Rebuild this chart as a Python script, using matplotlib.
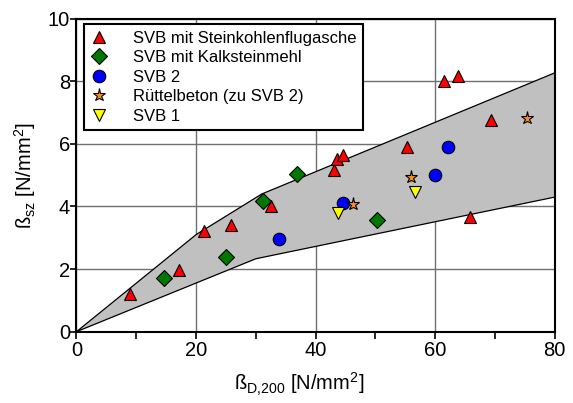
import numpy as np
import matplotlib
matplotlib.use('Agg')
import matplotlib.pyplot as plt

plt.rcParams['font.family'] = ['Liberation Sans', 'DejaVu Sans']
plt.rcParams['mathtext.fontset'] = 'custom'
plt.rcParams['mathtext.rm'] = 'Liberation Sans'

# ---- data ----
# SVB mit Steinkohlenflugasche
flug_x = [8.9, 17.1, 21.3, 25.9, 32.6, 43.1, 43.6, 44.6, 55.2, 61.5, 63.8, 69.3, 65.8]
flug_y = [1.2, 1.97, 3.22, 3.41, 4.03, 5.17, 5.51, 5.64, 5.89, 8.02, 8.18, 6.76, 3.67]
# SVB mit Kalksteinmehl
kalk_x = [14.7, 25.0, 31.2, 36.8, 50.3]
kalk_y = [1.72, 2.38, 4.19, 5.05, 3.57]
# SVB 2
svb2_x = [33.9, 44.6, 60.0, 62.2]
svb2_y = [2.96, 4.10, 5.0, 5.9]
# Ruettelbeton (zu SVB 2)
rb_x = [46.3, 56.0, 75.3]
rb_y = [4.09, 4.93, 6.82]
# SVB 1
svb1_x = [43.7, 56.6]
svb1_y = [3.80, 4.47]

# scatter band (upper edge then lower edge back)
band_upper_x = [0, 20, 31, 80]
band_upper_y = [0, 3.1, 4.4, 8.27]
band_lower_x = [0, 30, 80]
band_lower_y = [0, 2.33, 4.3]

fig = plt.figure(figsize=(5.73, 4.03), dpi=100)
ax = fig.add_axes([0.1335, 0.177, 0.8347, 0.7766])

# band
poly_x = band_upper_x + band_lower_x[::-1]
poly_y = band_upper_y + band_lower_y[::-1]
ax.fill(poly_x, poly_y, facecolor='#c0c0c0', edgecolor='black', linewidth=0.9, zorder=2)

mk = dict(linestyle='none', markeredgecolor='black', markeredgewidth=0.8, zorder=4)
ax.plot(flug_x, flug_y, marker='^', color='#ff0000', markersize=9,
        label='SVB mit Steinkohlenflugasche', **mk)
ax.plot(kalk_x, kalk_y, marker='D', color='#007800', markersize=8,
        label='SVB mit Kalksteinmehl', **mk)
ax.plot(svb2_x, svb2_y, marker='o', color='#0000ff', markersize=9,
        label='SVB 2', **mk)
ax.plot(rb_x, rb_y, marker='*', color='#ff8c1a', markersize=9.5,
        label='Rüttelbeton (zu SVB 2)', **mk)
ax.plot(svb1_x, svb1_y, marker='v', color='#ffff00', markersize=9,
        label='SVB 1', **mk)

ax.set_xlim(0, 80)
ax.set_ylim(0, 10)
ax.set_xticks([0, 20, 40, 60, 80])
ax.set_xticks([10, 30, 50, 70], minor=True)
ax.set_yticks([0, 2, 4, 6, 8, 10])
ax.tick_params(axis='x', which='both', direction='out', length=5, width=1.2,
               labelsize=14.5, pad=1.5)
ax.tick_params(axis='y', which='both', direction='out', length=4, width=1.2,
               labelsize=14.5, pad=0.7)
ax.grid(True, which='major', color='#707070', linewidth=1.0, zorder=1)
ax.set_axisbelow(True)
for s in ax.spines.values():
    s.set_linewidth(1.5)
    s.set_zorder(5)

ax.set_xlabel('ß$_\\mathregular{D{,}200}$ [N/mm$^\\mathregular{2}$]', fontsize=14.5)
ax.set_ylabel('ß$_\\mathregular{sz}$ [N/mm$^\\mathregular{2}$]', fontsize=14.5)
ax.xaxis.set_label_coords(0.465, -0.125)
ax.yaxis.set_label_coords(-0.08, 0.5)

leg = ax.legend(loc='upper left', bbox_to_anchor=(0.0157, 0.983), borderaxespad=0,
                fontsize=12, fancybox=False, edgecolor='black', framealpha=1,
                handlelength=1.0, handletextpad=1.55, labelspacing=0.27,
                borderpad=0.4, numpoints=1)
leg.get_frame().set_linewidth(1.5)
leg.set_zorder(6)

fig.savefig('out.png', dpi=100)
